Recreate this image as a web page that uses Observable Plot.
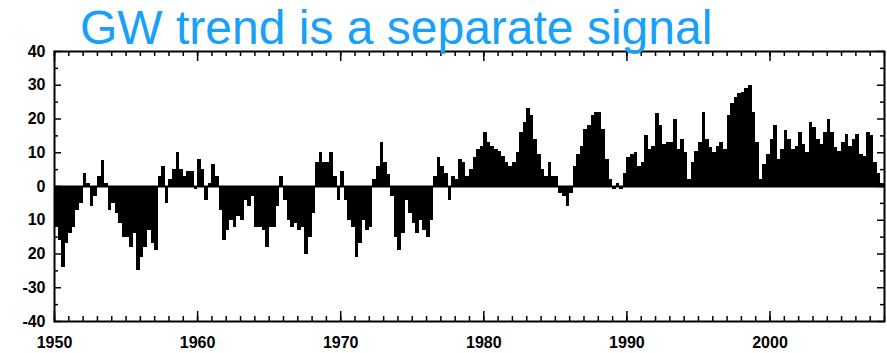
<!DOCTYPE html>
<html>
<head>
<meta charset="utf-8">
<script src="https://cdn.jsdelivr.net/npm/d3@7"></script>
<script src="https://cdn.jsdelivr.net/npm/@observablehq/plot@0.6"></script>
<style>
  html, body { margin: 0; padding: 0; background: #fff; }
  #wrap { position: relative; width: 887px; height: 353px; overflow: hidden; }
  #title {
    position: absolute; left: 80px; top: 4px;
    font-family: "Liberation Sans", Arial, sans-serif;
    font-size: 48px; line-height: 48px; color: #19A0FA; white-space: nowrap;
  }
</style>
</head>
<body>
<div id="wrap">
  <div id="chart"></div>
  <div id="title">GW trend is a separate signal</div>
</div>
<script>
// Quarterly index values (Q1..Q4 per year)
const startYear = 1950;
const values1950s = [
  -12, -16, -24, -17,   -14, -12, -7, -5,   4, 1, -6, -3,   3, 7.6, 1, -7,
  -5, -8, -11, -15,     -15, -18, -14, -25, -21, -18, -13, -17, -19, 3, 6, -5,
  2, 5, 10, 5,          3, 4.5, 4.5, -1
];
const values1960s = [
  8, 5, -4, 1,          6.4, 3, -7, -16,    -13, -10, -12, -9,  -10, -4, -6, -3,
  -12, -12, -13, -18,   -12, -12, -6, 3,    -4, -10, -12, -11,  -13, -12, -20, -15,
  -8, 7, 10, 7,         7, 10, 3, -4
];
const values1970s = [
  4.5, -4, -10, -12,    -21, -17, -10, -13, -12, 2, 6, 13,      7, 3.5, -3, -15,
  -19, -14, -4, -8,     -11, -14, -10, -13, -15, -10, 3, 8.5,   6, 4, -4, 3,
  2, 8, 7, 3,           5, 8.5, 11, 12
];
const values1980s = [
  16, 13, 12, 11,       10.5, 9, 7, 6,      7, 10, 16, 19,      23, 21, 14, 9.5,
  5, 3, 7, 3,           3, -2, -3, -6,      -2, 6, 9.5, 12,     17, 18, 21, 22,
  22, 17, 8, 2,         -1, 1, -1, 4
];
const values1990s = [
  8.5, 9.5, 10, 6,      7, 15, 11, 12,      21.5, 18, 12.5, 13, 13, 20, 11, 14,
  10, 2, 7, 10.5,       13, 22, 14, 11.5,   10, 12, 13, 11,     21, 24.5, 26.5, 27.5,
  28, 29, 30, 22,       13, 2, 6.5, 9.5
];
const values2000s = [
  14, 18, 8, 11,        16.5, 14, 11, 12,   16, 12.5, 10, 19,   17.5, 14, 12.5, 16,
  20, 16, 11.5, 10.5,   13, 15.5, 12, 14,   15.5, 9.5, 9, 16,   15, 7, 4, 1
];

const xDomain = [1950, 2008];
const yDomain = [-40, 40];
const xTickYears = [1950, 1960, 1970, 1980, 1990, 2000];
const yTickValues = [-40, -30, -20, -10, 0, 10, 20, 30, 40];
const yTickLabels = ["-40", "-30", "20", "10", "0", "10", "20", "30", "40"];

const allValues = [...values1950s, ...values1960s, ...values1970s, ...values1980s, ...values1990s, ...values2000s];
const data = allValues.map((v, i) => ({ x1: startYear + i / 4, x2: startYear + (i + 1) / 4, v }));

const W = 887, H = 353, mT = 51, mB = 32, mL = 54, mR = 3;
const plotW = W - mL - mR, plotH = H - mT - mB;
const minorYears = d3.range(xDomain[0], xDomain[1] + 1, 1);
const majorY = yTickValues;
const minorY = d3.range(-35, 40, 10);

const chart = Plot.plot({
  width: W, height: H,
  marginTop: mT, marginBottom: mB, marginLeft: mL, marginRight: mR,
  x: { domain: xDomain },
  y: { domain: yDomain },
  style: { fontFamily: "Liberation Sans, Arial, sans-serif", fontSize: "16px", fontWeight: "bold", color: "#000", background: "#fff" },
  marks: [
    Plot.rectY(data, { x1: "x1", x2: "x2", y: "v", fill: "#000", shapeRendering: "crispEdges" }),
    Plot.ruleY([0], { stroke: "#000", strokeWidth: 2 }),
    // inward ticks: bottom and top
    Plot.tickX(minorYears, { x: d => d, insetTop: plotH - 5, stroke: "#000", strokeWidth: 1.5 }),
    Plot.tickX(xTickYears, { x: d => d, insetTop: plotH - 10, stroke: "#000", strokeWidth: 1.5 }),
    Plot.tickX(minorYears, { x: d => d, insetBottom: plotH - 5, stroke: "#000", strokeWidth: 1.5 }),
    Plot.tickX(xTickYears, { x: d => d, insetBottom: plotH - 10, stroke: "#000", strokeWidth: 1.5 }),
    // inward ticks: left and right
    Plot.tickY(majorY, { y: d => d, insetRight: plotW - 7, stroke: "#000", strokeWidth: 1.5 }),
    Plot.tickY(minorY, { y: d => d, insetRight: plotW - 4, stroke: "#000", strokeWidth: 1.5 }),
    Plot.tickY(majorY, { y: d => d, insetLeft: plotW - 7, stroke: "#000", strokeWidth: 1.5 }),
    Plot.tickY(minorY, { y: d => d, insetLeft: plotW - 4, stroke: "#000", strokeWidth: 1.5 }),
    Plot.frame({ stroke: "#000", strokeWidth: 2 }),
    Plot.axisX({ ticks: xTickYears, tickSize: 0, tickPadding: 15, tickFormat: d => String(d), label: null }),
    Plot.axisY({ ticks: yTickValues, tickSize: 0, tickPadding: 9, tickFormat: d => yTickLabels[yTickValues.indexOf(d)], label: null })
  ]
});
document.getElementById("chart").appendChild(chart);
</script>
</body>
</html>
